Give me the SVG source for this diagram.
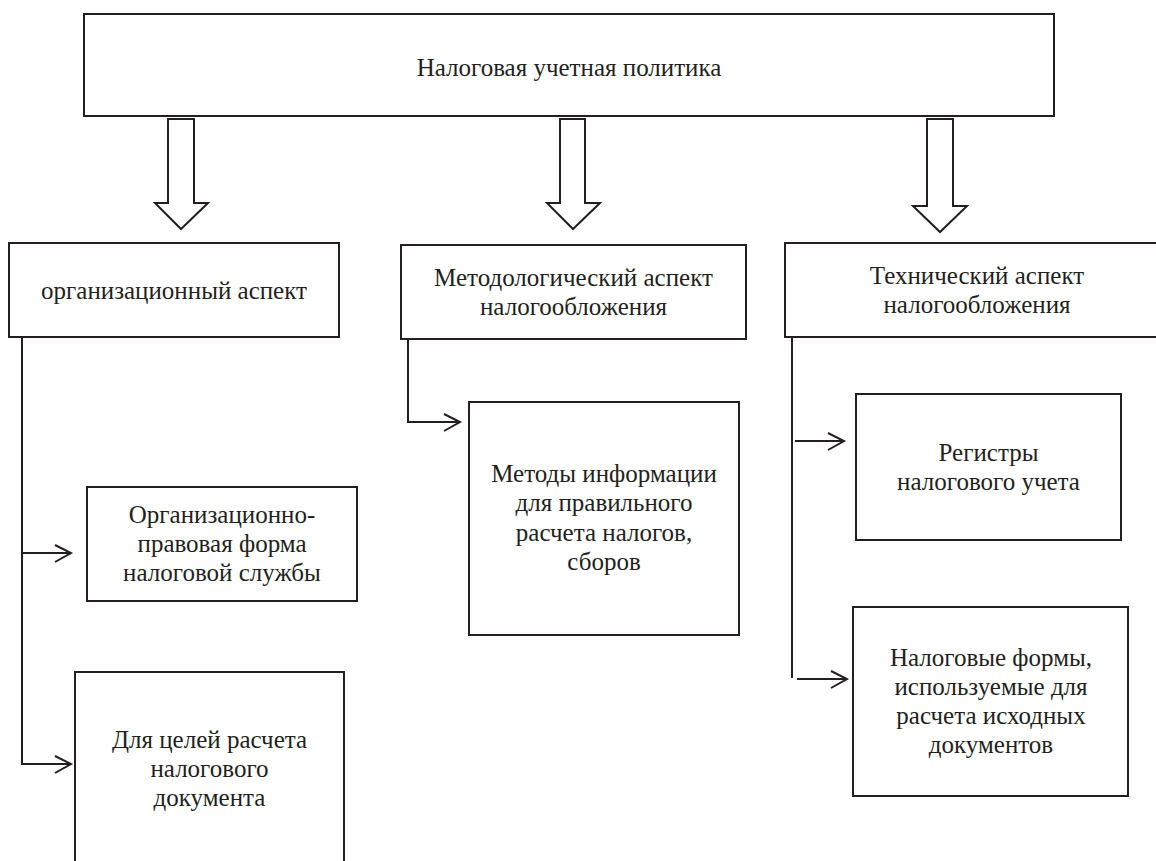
<svg xmlns="http://www.w3.org/2000/svg" width="1156" height="861" viewBox="0 0 1156 861">
<style>
.box{fill:#fff;stroke:#231f20;stroke-width:2}
.blk{fill:#fff;stroke:#231f20;stroke-width:2;stroke-linejoin:miter}
.ln{fill:none;stroke:#231f20;stroke-width:2}
.hd{fill:none;stroke:#231f20;stroke-width:2;stroke-linejoin:miter}
text{font-family:"Liberation Serif","Times New Roman",serif;font-size:25px;fill:#231f20;text-anchor:middle}
</style>
<rect width="1156" height="861" fill="#fff"/>
<g id="top">
<rect class="box" x="84" y="14" width="970" height="102"/>
<text x="569" y="76">Налоговая учетная политика</text>
</g>
<g id="block-arrows">
<path class="blk" d="M168,119 L194,119 L194,203 L208,203 L181,229 L155,203 L168,203 Z"/>
<path class="blk" d="M560,119 L585,119 L585,203 L600,203 L573,229 L547,203 L560,203 Z"/>
<path class="blk" d="M927,119 L953,119 L953,206 L967,206 L940,232 L913,206 L927,206 Z"/>
</g>
<g id="org-aspect">
<rect class="box" x="9" y="243" width="330" height="94"/>
<text x="174" y="299">организационный аспект</text>
</g>
<g id="method-aspect">
<rect class="box" x="401" y="245" width="345" height="94"/>
<text x="573.5" y="286">Методологический аспект</text>
<text x="573.5" y="315">налогообложения</text>
</g>
<g id="tech-aspect">
<rect class="box" x="785" y="243" width="380" height="94"/>
<text x="977" y="284">Технический аспект</text>
<text x="977" y="313">налогообложения</text>
</g>
<g id="org-form">
<rect class="box" x="87" y="487" width="270" height="114"/>
<text x="222" y="523">Организационно-</text>
<text x="222" y="552">правовая форма</text>
<text x="222" y="581">налоговой службы</text>
</g>
<g id="calc-doc">
<rect class="box" x="75" y="672" width="269" height="200"/>
<text x="209.5" y="748">Для целей расчета</text>
<text x="209.5" y="777">налогового</text>
<text x="209.5" y="806">документа</text>
</g>
<g id="methods">
<rect class="box" x="469" y="402" width="270" height="233"/>
<text x="604" y="482">Методы информации</text>
<text x="604" y="511">для правильного</text>
<text x="604" y="541">расчета налогов,</text>
<text x="604" y="570">сборов</text>
</g>
<g id="registers">
<rect class="box" x="856" y="394" width="265" height="146"/>
<text x="988.5" y="461">Регистры</text>
<text x="988.5" y="490">налогового учета</text>
</g>
<g id="forms">
<rect class="box" x="853" y="607" width="275" height="189"/>
<text x="991" y="666">Налоговые формы,</text>
<text x="991" y="695">используемые для</text>
<text x="991" y="724">расчета исходных</text>
<text x="991" y="753">документов</text>
</g>
<g id="connectors">
<path class="ln" d="M22,337 L22,765 M22,553 L71,553 M22,764 L71,764"/>
<path class="hd" d="M55,545 L71,553 L55,562 M55,756 L71,764 L55,773"/>
<path class="ln" d="M408,339 L408,422 L460,422"/>
<path class="hd" d="M444,414 L460,422 L444,431"/>
<path class="ln" d="M792,337 L792,678 M795,441 L844,441 M797,679 L847,679"/>
<path class="hd" d="M828,433 L844,441 L828,450 M831,671 L847,679 L831,688"/>
</g>
</svg>
